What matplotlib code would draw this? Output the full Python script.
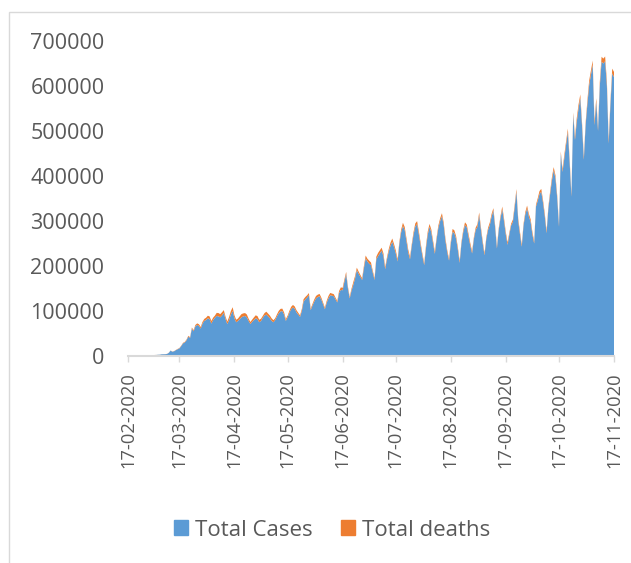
import numpy as np
import pandas as pd
import matplotlib
matplotlib.use("Agg")
import matplotlib.pyplot as plt
import matplotlib.dates as mdates
from matplotlib.patches import Patch, Rectangle

plt.rcParams['font.family'] = ['Open Sans', 'DejaVu Sans']

# daily values, one row per week, starting 17-02-2020
cases = [
    2100, 1900, 1800, 900, 1100, 1000, 1600,
    700, 800, 900, 1100, 1400, 1800, 2000,
    1900, 2200, 2400, 2800, 3000, 3800, 3900,
    4000, 4500, 7000, 12000, 9500, 10500, 13000,
    15000, 17000, 22000, 28000, 30000, 35000, 43000,
    40000, 61000, 55000, 66000, 69000, 67000, 61000,
    72000, 78000, 80000, 84000, 82000, 72000, 80000,
    85000, 89000, 88000, 86000, 90000, 96000, 82000,
    71000, 80000, 92000, 100000, 84000, 75000, 78000,
    82000, 86000, 88000, 89000, 86000, 78000, 71000,
    76000, 80000, 84000, 82000, 75000, 78000, 85000,
    90000, 92000, 88000, 84000, 78000, 75000, 80000,
    88000, 95000, 99000, 100000, 92000, 78000, 86000,
    96000, 104000, 108000, 105000, 97000, 92000, 87000,
    100000, 121000, 126000, 130000, 135000, 102000, 112000,
    121000, 128000, 131000, 133000, 125000, 115000, 104000,
    118000, 128000, 135000, 134000, 133000, 126000, 119000,
    140000, 147000, 146000, 165000, 182000, 150000, 128000,
    145000, 158000, 172000, 191000, 183000, 176000, 169000,
    195000, 217000, 210000, 205000, 202000, 185000, 169000,
    215000, 222000, 228000, 234000, 222000, 193000, 215000,
    232000, 245000, 254000, 242000, 228000, 210000, 250000,
    275000, 289000, 280000, 255000, 230000, 215000, 245000,
    270000, 288000, 293000, 270000, 245000, 222000, 202000,
    240000, 270000, 287000, 275000, 250000, 227000, 260000,
    285000, 300000, 311000, 290000, 255000, 230000, 212000,
    250000, 276000, 273000, 260000, 235000, 207000, 250000,
    275000, 291000, 286000, 265000, 245000, 228000, 260000,
    280000, 287000, 313000, 280000, 250000, 224000, 260000,
    280000, 291000, 310000, 323000, 285000, 239000, 280000,
    306000, 326000, 300000, 270000, 247000, 270000, 290000,
    298000, 330000, 365000, 300000, 270000, 243000, 290000,
    315000, 328000, 310000, 298000, 270000, 250000, 332000,
    345000, 360000, 365000, 340000, 310000, 273000, 328000,
    360000, 390000, 413000, 395000, 350000, 287000, 450000,
    409000, 440000, 470000, 498000, 430000, 354000, 536000,
    480000, 520000, 550000, 573000, 510000, 436000, 513000,
    560000, 602000, 625000, 647000, 513000, 565000, 500000,
    600000, 654000, 650000, 655000, 600000, 472000, 560000,
    628000, 620000,
]

deaths = [
    100, 140, 120, 120, 110, 100, 100,
    150, 80, 60, 45, 55, 60, 55,
    70, 80, 90, 100, 120, 110, 120,
    200, 240, 320, 300, 400, 420, 500,
    800, 830, 1000, 1100, 1400, 1600, 1800,
    1900, 2200, 2600, 3000, 3500, 3600, 3500,
    3700, 4400, 5000, 5500, 6000, 5800, 5200,
    4800, 6800, 7500, 7000, 7200, 6000, 5300,
    5500, 6800, 7800, 8400, 6500, 5600, 5200,
    6300, 7100, 6700, 6400, 6200, 5000, 4500,
    4800, 5800, 6400, 6600, 5500, 4800, 4200,
    5500, 6500, 6200, 5800, 5600, 4500, 3900,
    4600, 5400, 5700, 5300, 4900, 4000, 3700,
    4400, 5400, 5400, 5100, 4700, 3900, 3300,
    4400, 5300, 5200, 5000, 4900, 3500, 3600,
    4500, 5400, 5300, 5000, 4600, 3700, 3400,
    4300, 5300, 5100, 4800, 4500, 3700, 3300,
    4400, 5500, 5400, 5100, 4900, 4000, 3400,
    4500, 5900, 5700, 5300, 5000, 4200, 3900,
    5100, 6300, 6000, 6800, 5700, 4600, 3900,
    5800, 7100, 7000, 6700, 6300, 5000, 4300,
    5700, 7000, 7100, 6500, 6200, 5100, 4200,
    6000, 7000, 6900, 6600, 6300, 5300, 4400,
    5900, 6900, 6700, 6500, 6200, 5200, 4300,
    5600, 6700, 6600, 6300, 6000, 5100, 4200,
    5400, 6400, 6300, 6100, 5800, 4900, 4100,
    5200, 6300, 6200, 5900, 5700, 4800, 4000,
    5100, 6100, 6000, 5900, 5500, 4700, 3900,
    5000, 6100, 5900, 5600, 5400, 4600, 3800,
    4900, 6000, 5800, 5600, 5300, 4500, 3800,
    5000, 6100, 5900, 5700, 5500, 4500, 3900,
    5100, 6100, 6000, 5800, 5700, 4600, 4000,
    5200, 6200, 6000, 5900, 5800, 4700, 4100,
    5500, 6500, 6300, 6200, 6000, 5000, 4300,
    5800, 7000, 6800, 6600, 6400, 5300, 4600,
    6200, 7600, 7400, 7200, 7000, 5800, 5000,
    7200, 8700, 8500, 8300, 8000, 6600, 5700,
    8300, 9800, 9700, 9500, 9100, 7600, 6500,
    9400, 11000, 10900, 10600, 10200, 8500, 7400,
    10600, 11300,
]

dates = pd.date_range("2020-02-17", periods=len(cases), freq="D")
tick_dates = pd.date_range("2020-02-17", "2020-11-17", freq=pd.DateOffset(months=1))
y_ticks = [0, 100000, 200000, 300000, 400000, 500000, 600000, 700000]

blue = "#5B9BD5"
orange = "#ED7D31"
grey_text = "#595959"
grey_line = "#D9D9D9"

fig = plt.figure(figsize=(6.31, 5.63), dpi=100)
ax = fig.add_axes([128 / 631, 1 - 356 / 563, (614 - 128) / 631, (356 - 41) / 563])

ax.stackplot(dates, cases, deaths, colors=[blue, orange], lw=0)

ax.set_xlim(dates[0], dates[-1])
ax.set_ylim(0, 700000)
ax.set_yticks(y_ticks)
ax.set_yticklabels([str(v) for v in y_ticks])
ax.set_xticks(tick_dates)
ax.xaxis.set_major_formatter(mdates.DateFormatter("%d-%m-%Y"))

for s in ["top", "right", "left"]:
    ax.spines[s].set_visible(False)
ax.spines["bottom"].set_color(grey_line)
ax.spines["bottom"].set_linewidth(1.5)

ax.tick_params(axis="y", length=0, pad=17, labelsize=15.5, labelcolor=grey_text)
ax.tick_params(axis="x", length=4.5, width=1, color=grey_line, pad=7,
               labelsize=13.2, labelcolor=grey_text, labelrotation=90)

handles = [Patch(color=blue, label="Total Cases"), Patch(color=orange, label="Total deaths")]
fig.legend(handles=handles, loc="center", bbox_to_anchor=(332 / 631, 1 - 530 / 563),
           ncol=2, frameon=False, fontsize=16, labelcolor=grey_text,
           handlelength=0.63, handleheight=0.63, handletextpad=0.3, columnspacing=1.3)

# chart area border (cut by the image edge)
fig.add_artist(Rectangle((9 / 631, -0.1), 1.2, (1 - 12 / 563) + 0.1,
                         transform=fig.transFigure, fill=False,
                         edgecolor=grey_line, lw=1))

fig.savefig("out.png", dpi=100)
